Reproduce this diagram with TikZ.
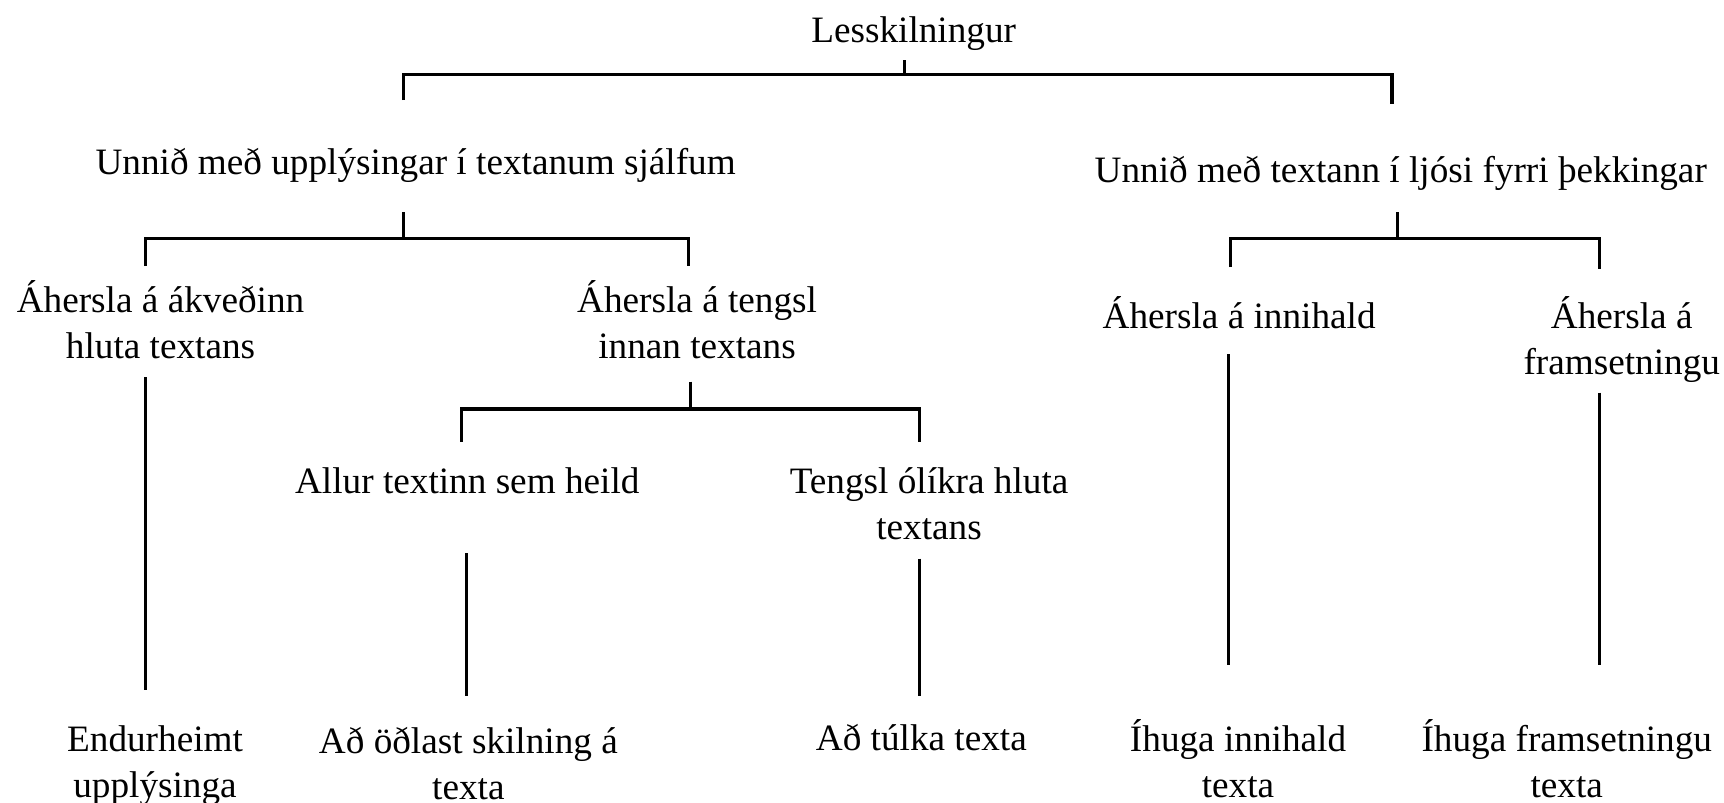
\documentclass[tikz,border=0pt]{standalone}
\usepackage{fontspec}
\setmainfont{Liberation Serif}
\begin{document}
\begin{tikzpicture}[x=0.010995cm,y=-0.010995cm,
  lbl/.style={inner sep=0pt, align=center, anchor=base, font=\fontsize{10.6}{13.1}\selectfont},
  conn/.style={line width=0.9pt, line cap=butt}]
\useasboundingbox (0,0) rectangle (1568,730.3);
% texts (anchor = baseline of last line)
\node[lbl] (root) at (831,39) {Lesskilningur};
\node[lbl] (A) at (378,159) {Unnið með upplýsingar í textanum sjálfum};
\node[lbl] (B) at (1274,166) {Unnið með textann í ljósi fyrri þekkingar};
\node[lbl] (A1) at (146,326) {Áhersla á ákveðinn\\hluta textans};
\node[lbl] (A2) at (634,326) {Áhersla á tengsl\\innan textans};
\node[lbl] (B1) at (1127,299) {Áhersla á innihald};
\node[lbl] (B2) at (1475,341) {Áhersla á\\framsetningu};
\node[lbl] (A21) at (425,449) {Allur textinn sem heild};
\node[lbl] (A22) at (845,491) {Tengsl ólíkra hluta\\textans};
\node[lbl] (L1) at (141,725) {Endurheimt\\upplýsinga};
\node[lbl] (L2) at (426,727) {Að öðlast skilning á\\texta};
\node[lbl] (L3) at (838,683) {Að túlka texta};
\node[lbl] (L4) at (1126,725) {Íhuga innihald\\texta};
\node[lbl] (L5) at (1425,725) {Íhuga framsetningu\\texta};
% connector end points
\coordinate (r0) at (823,55); \coordinate (r1) at (823,68);
\coordinate (rA) at (367,91); \coordinate (rB) at (1266,95);
\coordinate (a0) at (367,193); \coordinate (a1) at (367,217);
\coordinate (aA1) at (132,242); \coordinate (aA2) at (626,242);
\coordinate (b0) at (1271,193); \coordinate (b1) at (1271,217);
\coordinate (bB1) at (1119,243); \coordinate (bB2) at (1455,245);
\coordinate (c0) at (628,347); \coordinate (c1) at (628,372);
\coordinate (cA21) at (420,402); \coordinate (cA22) at (836,402);
\coordinate (d1t) at (132,343); \coordinate (d1b) at (132,628);
\coordinate (d2t) at (424,503); \coordinate (d2b) at (424,633);
\coordinate (d3t) at (836,508); \coordinate (d3b) at (836,633);
\coordinate (d4t) at (1117,322); \coordinate (d4b) at (1117,605);
\coordinate (d5t) at (1455,357); \coordinate (d5b) at (1455,605);
% connectors
\draw[conn] (r0) -- (r1);
\draw[conn] (rA) |- (r1) -| (rB);
\draw[conn] (a0) -- (a1);
\draw[conn] (aA1) |- (a1) -| (aA2);
\draw[conn] (b0) -- (b1);
\draw[conn] (bB1) |- (b1) -| (bB2);
\draw[conn] (c0) -- (c1);
\draw[conn] (cA21) |- (c1) -| (cA22);
\draw[conn] (d1t) -- (d1b);
\draw[conn] (d2t) -- (d2b);
\draw[conn] (d3t) -- (d3b);
\draw[conn] (d4t) -- (d4b);
\draw[conn] (d5t) -- (d5b);
\end{tikzpicture}
\end{document}
